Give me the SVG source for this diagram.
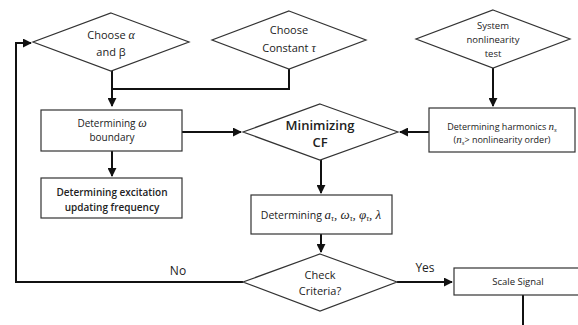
<svg xmlns="http://www.w3.org/2000/svg" width="578" height="325" viewBox="0 0 578 325">
<defs>
<marker id="ah" viewBox="0 0 10 10" refX="9" refY="5" markerWidth="4.5" markerHeight="4.5" orient="auto" markerUnits="strokeWidth">
<path d="M0,0 L10,5 L0,10 Z" fill="#111"/>
</marker>
<style>
.shape{fill:#fff;stroke:#333;stroke-width:1.2}
.conn{fill:none;stroke:#111;stroke-width:2}
.t{font-family:"Open Sans","Liberation Sans",sans-serif;fill:#222;text-anchor:middle}
.m{font-family:"Liberation Serif",serif;font-style:italic}
</style>
</defs>
<rect width="578" height="325" fill="#fff"/>
<g id="connectors">
<path class="conn" d="M112,71 V106" marker-end="url(#ah)"/>
<path class="conn" d="M289,69 V89 H112"/>
<path class="conn" d="M493,68 V106" marker-end="url(#ah)"/>
<path class="conn" d="M182,132 H241" marker-end="url(#ah)"/>
<path class="conn" d="M112,151 V176" marker-end="url(#ah)"/>
<path class="conn" d="M429,132 H400" marker-end="url(#ah)"/>
<path class="conn" d="M321,160 V193" marker-end="url(#ah)"/>
<path class="conn" d="M321,234 V252" marker-end="url(#ah)"/>
<path class="conn" d="M243,282 H16 V43 H31" marker-end="url(#ah)"/>
<path class="conn" d="M397,282 H452" marker-end="url(#ah)"/>
<path class="conn" d="M523,295 V325"/>
<text class="t" x="178" y="275" font-size="12">No</text>
<text class="t" x="425" y="272" font-size="12">Yes</text>
</g>
<g id="choose-ab">
<polygon class="shape" points="111,13 189,42 111,71 33,42"/>
<text class="t" x="111" y="39" font-size="11">Choose <tspan class="m" font-size="12">α</tspan></text>
<text class="t" x="111" y="56" font-size="11">and β</text>
</g>
<g id="choose-tau">
<polygon class="shape" points="289,11 366,40 289,69 212,40"/>
<text class="t" x="289" y="34" font-size="11">Choose</text>
<text class="t" x="289" y="52" font-size="11">Constant <tspan class="m" font-size="12">τ</tspan></text>
</g>
<g id="system-test">
<polygon class="shape" points="493,10 570,39 493,68 416,39"/>
<text class="t" x="493" y="29" font-size="9.5">System</text>
<text class="t" x="493" y="43" font-size="9.5">nonlinearity</text>
<text class="t" x="493" y="57" font-size="9.5">test</text>
</g>
<g id="omega-boundary">
<rect class="shape" x="41" y="110" width="141" height="41"/>
<text class="t" x="112" y="127" font-size="10">Determining <tspan class="m" font-size="12">ω</tspan></text>
<text class="t" x="112" y="141" font-size="10">boundary</text>
</g>
<g id="excitation">
<rect class="shape" x="41" y="178" width="141" height="40"/>
<text class="t" x="112" y="196" font-size="10" font-weight="600">Determining excitation</text>
<text class="t" x="112" y="211" font-size="10" font-weight="600">updating frequency</text>
</g>
<g id="minimizing">
<polygon class="shape" points="320,104 398,132 320,160 243,132"/>
<text class="t" x="320" y="130" font-size="13" font-weight="600">Minimizing</text>
<text class="t" x="320" y="147" font-size="13" font-weight="600">CF</text>
</g>
<g id="harmonics">
<rect class="shape" x="429" y="108" width="146" height="44"/>
<text class="t" x="502" y="130" font-size="9">Determining harmonics <tspan class="m" font-size="11">n</tspan><tspan class="m" font-size="7" dy="2">s</tspan></text>
<text class="t" x="502" y="143" font-size="9">(<tspan class="m" font-size="11">n</tspan><tspan class="m" font-size="7" dy="2">s</tspan><tspan dy="-2">&gt; nonlinearity order)</tspan></text>
</g>
<g id="params">
<rect class="shape" x="251" y="195" width="141" height="39"/>
<text class="t" x="321" y="219" font-size="10.5">Determining <tspan class="m" font-size="13">a</tspan><tspan class="m" font-size="8" dy="2">τ</tspan><tspan class="m" font-size="13" dy="-2">, ω</tspan><tspan class="m" font-size="8" dy="2">τ</tspan><tspan class="m" font-size="13" dy="-2">, φ</tspan><tspan class="m" font-size="8" dy="2">τ</tspan><tspan class="m" font-size="13" dy="-2">, λ</tspan></text>
</g>
<g id="check">
<polygon class="shape" points="320,254 397,282 320,311 243,282"/>
<text class="t" x="320" y="279" font-size="11">Check</text>
<text class="t" x="320" y="295" font-size="11">Criteria?</text>
</g>
<g id="scale">
<rect class="shape" x="454" y="268" width="130" height="27"/>
<text class="t" x="518" y="285" font-size="9.5">Scale Signal</text>
</g>
</svg>
